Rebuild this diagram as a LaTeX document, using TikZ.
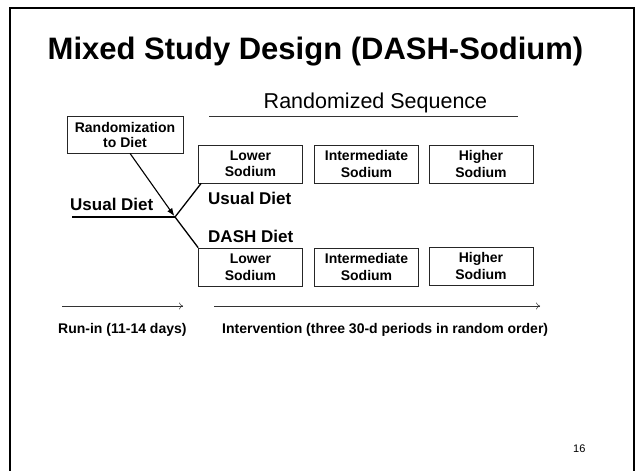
\documentclass[tikz,border=0pt]{standalone}
\usepackage{fontspec}
\setmainfont{Liberation Sans}
\usetikzlibrary{arrows.meta}
\tikzset{sodbox/.style={draw=black!85,line width=0.7pt,minimum width=104pt,minimum height=38pt,inner sep=0pt,align=center,font=\bfseries\fontsize{14}{16.5}\selectfont},
  dietlbl/.style={anchor=base west,inner sep=0pt,font=\bfseries\fontsize{17}{20}\selectfont},
  timelbl/.style={anchor=base west,inner sep=0pt,font=\bfseries\fontsize{14}{16}\selectfont},
  timearr/.style={line width=0.5pt,draw=black!80,-{To[length=4pt,width=7pt]}}}
\begin{document}
\begin{tikzpicture}[x=1pt,y=-1pt]
\useasboundingbox (0,0) rectangle (640,471);
\fill[white] (0,0) rectangle (640,471);
% slide frame
\draw[line width=2.6pt] (10,471) -- (10,8) -- (634,8) -- (634,471);
\node[anchor=base,inner sep=0pt,font=\bfseries\fontsize{31}{35}\selectfont] (title) at (315.5,59) {Mixed Study Design (DASH-Sodium)};
% sequence heading
\node[anchor=base,inner sep=0pt,font=\fontsize{21.5}{25}\selectfont] (seq) at (375.5,108) {Randomized Sequence};
\coordinate (seqL) at (209,116); \coordinate (seqR) at (518,116);
\draw[line width=0.6pt,black!80] (seqL) -- (seqR);
% randomization and sodium boxes
\node[sodbox,minimum width=116pt,minimum height=37pt,font=\bfseries\fontsize{14}{15}\selectfont] (rand) at (125,134.5) {Randomization\\to Diet};
\node[sodbox] (low1) at (250.5,164) {Lower\\Sodium};
\node[sodbox] (mid1) at (366.5,164) {Intermediate\\Sodium};
\node[sodbox] (high1) at (481,164) {Higher\\Sodium};
\node[sodbox] (low2) at (250.5,267) {Lower\\Sodium};
\node[sodbox] (mid2) at (366.5,267) {Intermediate\\Sodium};
\node[sodbox] (high2) at (481,266) {Higher\\Sodium};
% diets branching off
\coordinate (start) at (72,217); \coordinate (junc) at (175,217);
\node[dietlbl] (usual0) at (70,210) {Usual Diet};
\node[dietlbl] (usual) at (208,204) {Usual Diet};
\node[dietlbl] (dash) at (208,242) {DASH Diet};
\draw[line width=1.3pt] (start) -- (junc); \draw[line width=1.3pt] (junc) -- ([xshift=3pt]low1.south west); \draw[line width=1.3pt] (junc) -- (low2.north west);
\draw[line width=1.1pt,-{Latex[length=8pt,width=6pt]},shorten >=1pt] ([xshift=5pt]rand.south) -- (junc);
% timeline
\coordinate (run0) at (62,306); \coordinate (run1) at (183,306);
\coordinate (int0) at (214,306); \coordinate (int1) at (540,306);
\draw[timearr] (run0) -- (run1); \draw[timearr] (int0) -- (int1);
\node[timelbl] (runin) at (58,333) {Run-in (11-14 days)};
\node[timelbl] (interv) at (222,333) {Intervention (three 30-d periods in random order)};
\node[anchor=base west,inner sep=0pt,font=\fontsize{11}{13}\selectfont] (page) at (573,452) {16};
\end{tikzpicture}
\end{document}
